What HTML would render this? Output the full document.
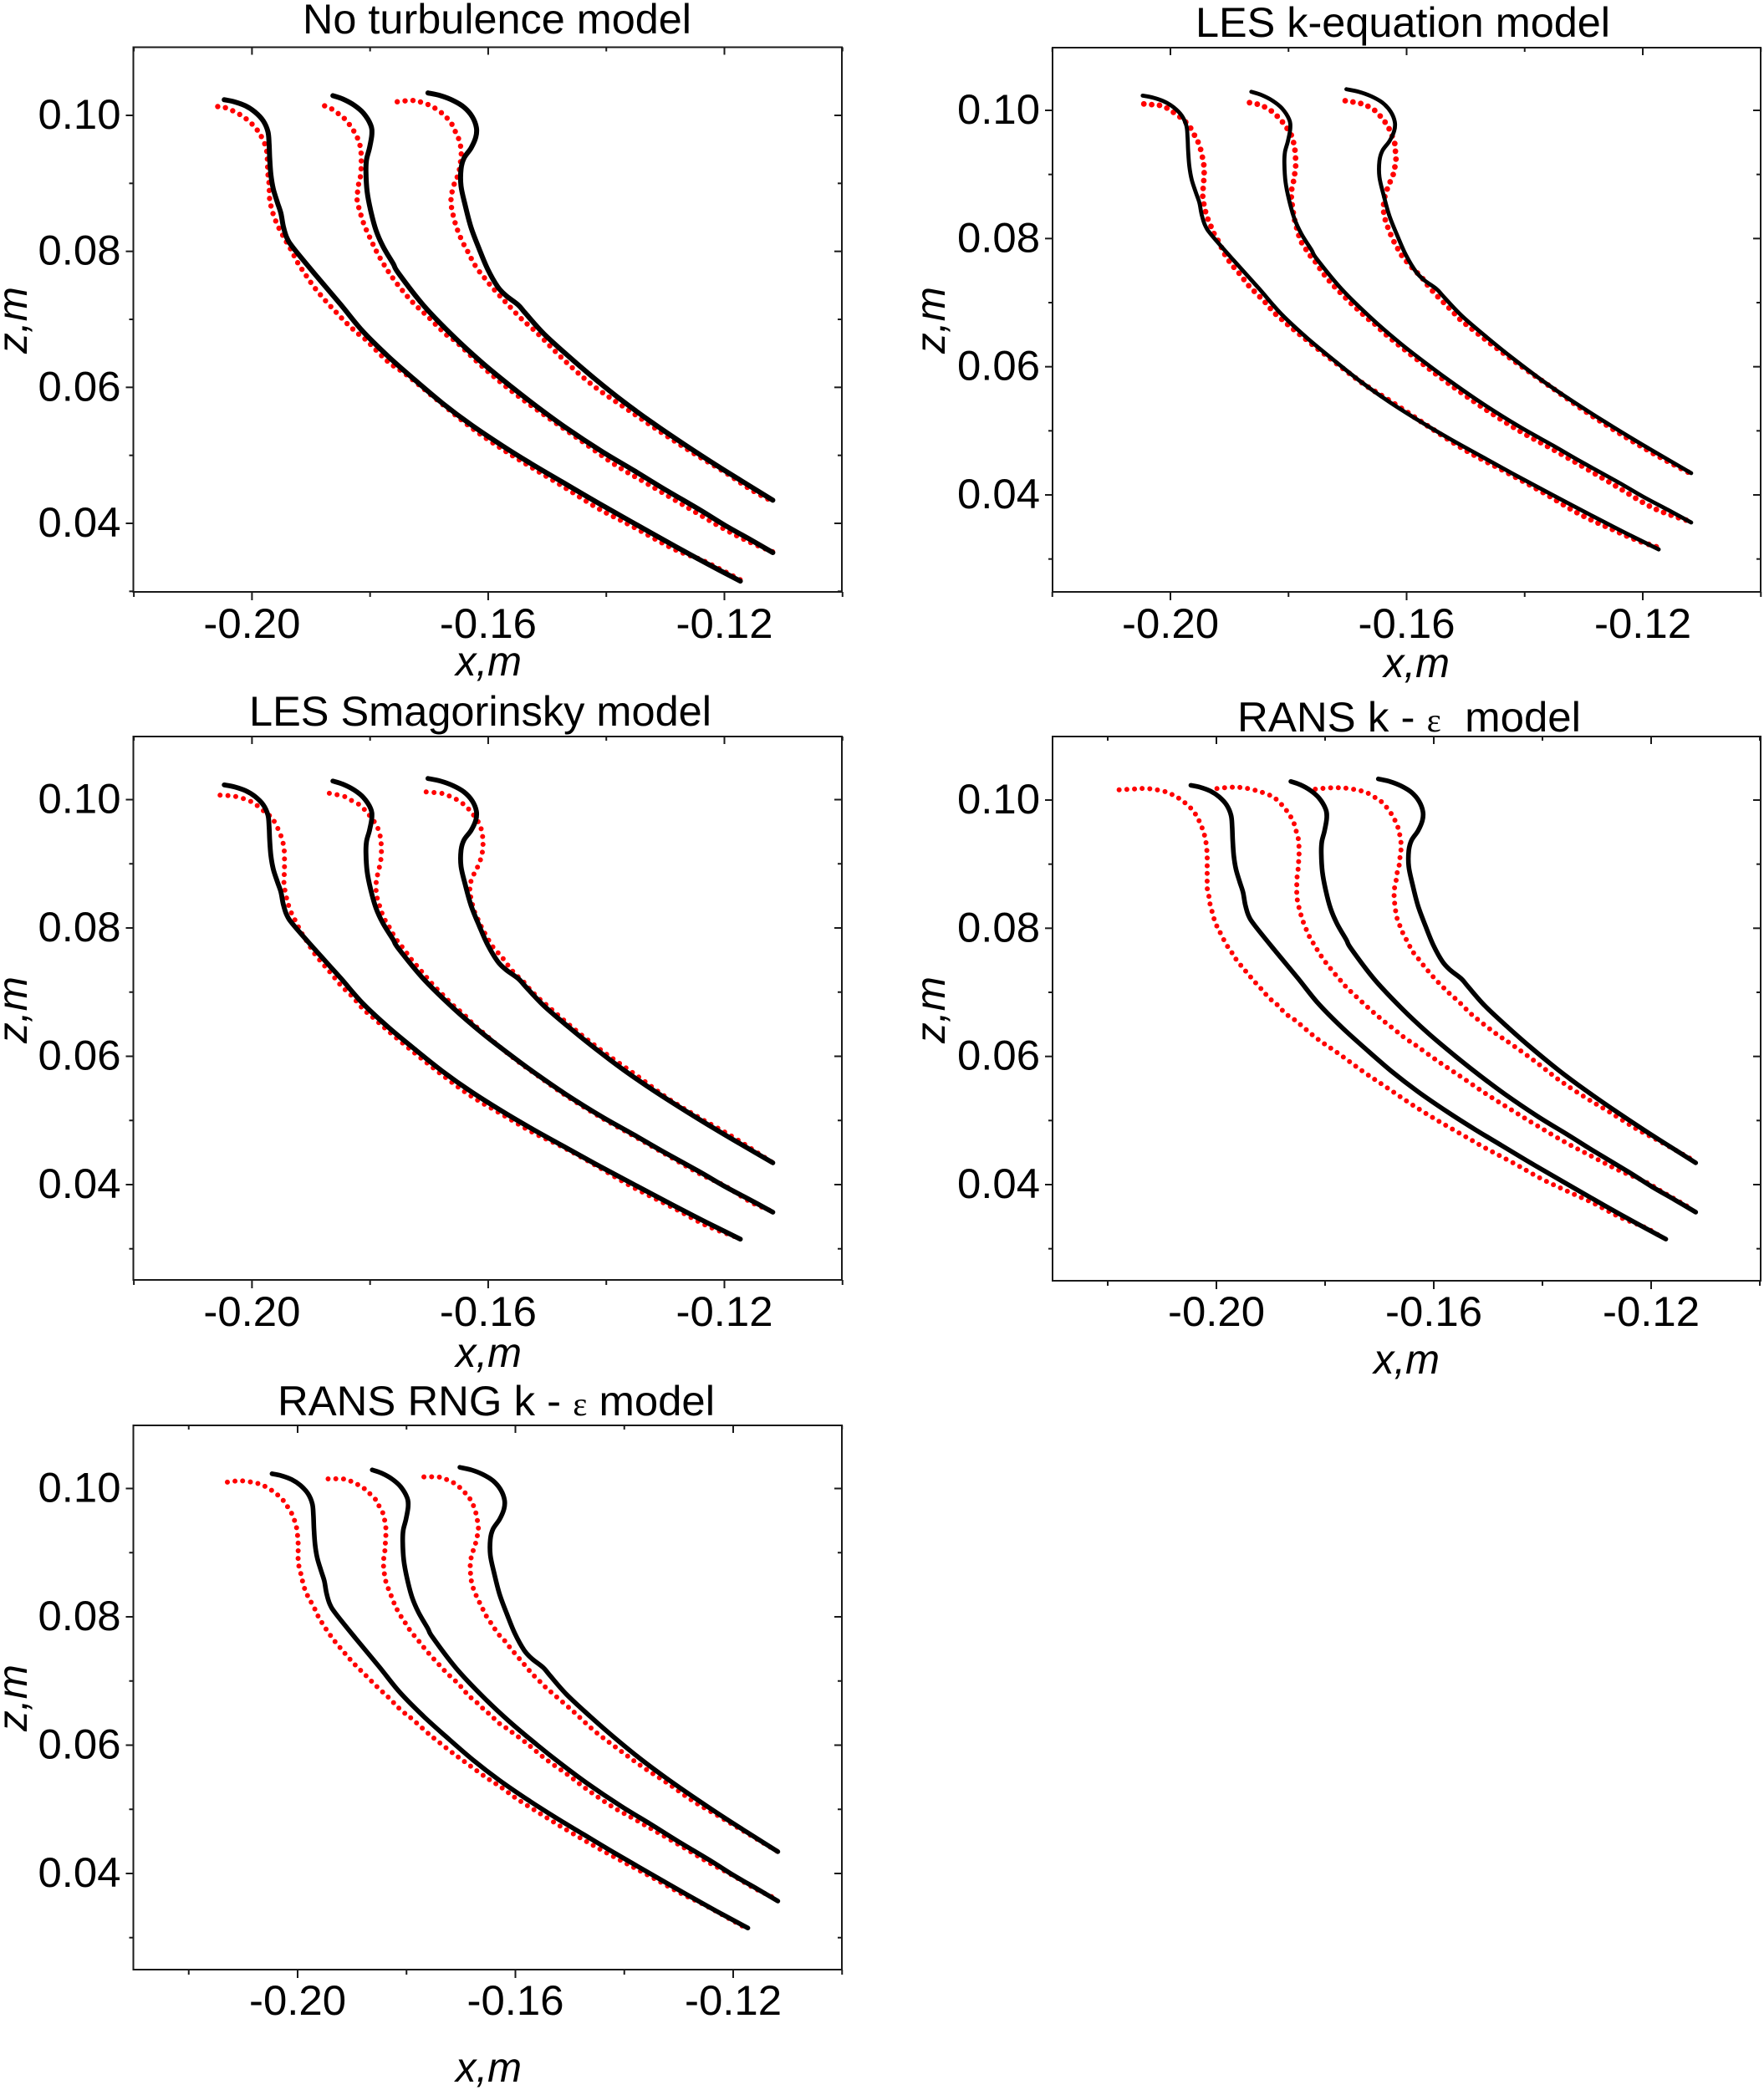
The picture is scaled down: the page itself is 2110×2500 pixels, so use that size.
<!DOCTYPE html>
<html lang="en">
<head>
<meta charset="utf-8">
<title>Turbulence model comparison</title>
<style>
html,body{margin:0;padding:0;background:#fff;}
svg{display:block;}
text{font-family:"Liberation Sans",sans-serif;fill:#000;font-size:50px;white-space:pre;}
.ital{font-style:italic;}
.eps{font-family:"Liberation Serif",serif;font-size:40px;}
</style>
</head>
<body>
<svg id="figure" xmlns="http://www.w3.org/2000/svg" width="2110" height="2500" viewBox="0 0 2110 2500">
<rect x="0" y="0" width="2110" height="2500" fill="#fff"/>
<g id="plots"></g>

<text x="362" y="40" textLength="465" lengthAdjust="spacingAndGlyphs">No turbulence model</text>
<text x="1430" y="44" textLength="496" lengthAdjust="spacingAndGlyphs">LES k-equation model</text>
<text x="298" y="868" textLength="553" lengthAdjust="spacingAndGlyphs">LES Smagorinsky model</text>
<text x="1480" y="875" textLength="411" lengthAdjust="spacingAndGlyphs">RANS k - <tspan class="eps">ε</tspan>  model</text>
<text x="332" y="1693" textLength="523" lengthAdjust="spacingAndGlyphs">RANS RNG k - <tspan class="eps">ε</tspan> model</text>

<text class="ital" x="545" y="808" textLength="79" lengthAdjust="spacingAndGlyphs">x,m</text>
<text class="ital" x="1655" y="810" textLength="79" lengthAdjust="spacingAndGlyphs">x,m</text>
<text class="ital" x="545" y="1635" textLength="79" lengthAdjust="spacingAndGlyphs">x,m</text>
<text class="ital" x="1643" y="1643" textLength="79" lengthAdjust="spacingAndGlyphs">x,m</text>
<text class="ital" x="545" y="2490" textLength="79" lengthAdjust="spacingAndGlyphs">x,m</text>

<text class="ital" transform="translate(32,423) rotate(-90)" textLength="80" lengthAdjust="spacingAndGlyphs">z,m</text>
<text class="ital" transform="translate(1130,423) rotate(-90)" textLength="80" lengthAdjust="spacingAndGlyphs">z,m</text>
<text class="ital" transform="translate(32,1248) rotate(-90)" textLength="80" lengthAdjust="spacingAndGlyphs">z,m</text>
<text class="ital" transform="translate(1130,1248) rotate(-90)" textLength="80" lengthAdjust="spacingAndGlyphs">z,m</text>
<text class="ital" transform="translate(32,2071) rotate(-90)" textLength="80" lengthAdjust="spacingAndGlyphs">z,m</text>
</svg>

<script>
// Tick values and labels
const xMajorTicks = [-0.20, -0.16, -0.12];
const xMajorLabels = ['-0.20', '-0.16', '-0.12'];
const xMinorTicks = [-0.22, -0.18, -0.14, -0.10];
const zMajorTicks = [0.10, 0.08, 0.06, 0.04];
const zMajorLabels = ['0.10', '0.08', '0.06', '0.04'];
const zMinorTicks = [0.09, 0.07, 0.05, 0.03];

// Simulation (black) profiles, shared by all panels
const blackC1X = [-.2047,-.2030,-.2011,-.1995,-.1981,-.1973,-.1971,-.1970,-.1968,-.1964,-.1957,-.1951,-.1947,-.1941,-.1930,-.1893,-.1850,-.1813,-.1770,-.1727,-.1678,-.1629,-.1574,-.1524,-.1475,-.1420,-.1359,-.1285,-.1230,-.1173];
const blackC1Z = [.1023,.1020,.1014,.1005,.0992,.0976,.0958,.0937,.0913,.0892,.0872,.0856,.0837,.0820,.0805,.0766,.0722,.0683,.0646,.0613,.0577,.0545,.0513,.0486,.0461,.0433,.0403,.0367,.0341,.0315];
const blackC2X = [-.1863,-.1846,-.1827,-.1811,-.1799,-.1797,-.1801,-.1806,-.1807,-.1805,-.1799,-.1790,-.1778,-.1761,-.1752,-.1709,-.1659,-.1610,-.1561,-.1518,-.1469,-.1408,-.1352,-.1303,-.1242,-.1199,-.1156,-.1118];
const blackC2Z = [.1029,.1024,.1015,.1003,.0986,.0972,.0952,.0935,.0917,.0888,.0860,.0831,.0807,.0782,.0768,.0720,.0675,.0636,.0601,.0572,.0541,.0506,.0477,.0451,.0420,.0397,.0376,.0357];
const blackC3X = [-.1702,-.1681,-.1660,-.1641,-.1627,-.1620,-.1621,-.1629,-.1641,-.1646,-.1646,-.1639,-.1629,-.1615,-.1601,-.1584,-.1570,-.1549,-.1537,-.1506,-.1463,-.1420,-.1371,-.1322,-.1266,-.1211,-.1174,-.1118];
const blackC3Z = [.1033,.1029,.1022,.1012,.0998,.0982,.0968,.0952,.0937,.0921,.0896,.0868,.0835,.0803,.0774,.0748,.0735,.0721,.0709,.0679,.0645,.0613,.0579,.0548,.0515,.0484,.0464,.0434];

// Panel 1: No turbulence model (red dotted)
const p1RedC1X = [-.2058,-.2044,-.2020,-.2002,-.1989,-.1982,-.1976,-.1974,-.1973,-.1971,-.1970,-.1967,-.1963,-.1957,-.1950,-.1943,-.1933,-.1923,-.1908,-.1896,-.1883,-.1870,-.1857,-.1845,-.1832,-.1819,-.1806,-.1770,-.1739,-.1690,-.1629,-.1574,-.1524,-.1469,-.1414,-.1359,-.1285,-.1236,-.1171];
const p1RedC1Z = [.1013,.1011,.1001,.0989,.0976,.0965,.0952,.0937,.0915,.0899,.0876,.0864,.0852,.0839,.0827,.0816,.0801,.0784,.0764,.0749,.0735,.0722,.0710,.0699,.0688,.0678,.0669,.0638,.0619,.0584,.0541,.0508,.0481,.0452,.0422,.0397,.0362,.0345,.0316];
const p1RedC2X = [-.1877,-.1866,-.1853,-.1842,-.1829,-.1820,-.1816,-.1815,-.1815,-.1816,-.1819,-.1821,-.1822,-.1819,-.1815,-.1810,-.1804,-.1797,-.1791,-.1783,-.1774,-.1765,-.1754,-.1742,-.1730,-.1716,-.1702,-.1686,-.1669,-.1653,-.1604,-.1555,-.1506,-.1445,-.1383,-.1328,-.1260,-.1199,-.1156,-.1118];
const p1RedC2Z = [.1014,.1010,.1002,.0994,.0979,.0964,.0951,.0939,.0927,.0912,.0901,.0889,.0876,.0864,.0852,.0839,.0827,.0814,.0803,.0790,.0777,.0765,.0752,.0739,.0727,.0715,.0704,.0690,.0676,.0666,.0626,.0591,.0560,.0523,.0485,.0457,.0422,.0391,.0372,.0358];
const p1RedC3X = [-.1754,-.1730,-.1716,-.1697,-.1678,-.1663,-.1655,-.1649,-.1646,-.1646,-.1650,-.1656,-.1661,-.1663,-.1662,-.1659,-.1655,-.1650,-.1643,-.1636,-.1629,-.1619,-.1609,-.1598,-.1587,-.1568,-.1544,-.1516,-.1469,-.1420,-.1365,-.1309,-.1254,-.1199,-.1156,-.1118];
const p1RedC3Z = [.1020,.1022,.1020,.1014,.1003,.0989,.0975,.0963,.0950,.0938,.0915,.0903,.0888,.0876,.0864,.0852,.0839,.0827,.0813,.0802,.0790,.0775,.0764,.0752,.0741,.0723,.0701,.0679,.0638,.0601,.0568,.0535,.0504,.0475,.0450,.0432];

// Panel 2: LES k-equation model
const p2RedC1X = [-.2045,-.2032,-.2019,-.2007,-.1995,-.1979,-.1967,-.1958,-.1952,-.1948,-.1945,-.1943,-.1943,-.1944,-.1945,-.1945,-.1942,-.1939,-.1933,-.1928,-.1920,-.1913,-.1907,-.1896,-.1882,-.1868,-.1854,-.1840,-.1825,-.1809,-.1795,-.1775,-.1731,-.1674,-.1617,-.1560,-.1497,-.1434,-.1371,-.1307,-.1251,-.1209,-.1170];
const p2RedC1Z = [.1010,.1009,.1008,.1004,.0997,.0986,.0974,.0959,.0948,.0936,.0923,.0911,.0898,.0885,.0873,.0861,.0849,.0836,.0823,.0811,.0798,.0785,.0774,.0759,.0744,.0727,.0714,.0701,.0685,.0672,.0661,.0646,.0614,.0574,.0540,.0505,.0468,.0437,.0405,.0370,.0346,.0329,.0317];
const p2RedC2X = [-.1866,-.1854,-.1842,-.1829,-.1815,-.1804,-.1795,-.1791,-.1789,-.1788,-.1788,-.1790,-.1792,-.1795,-.1795,-.1793,-.1791,-.1788,-.1780,-.1771,-.1763,-.1754,-.1743,-.1731,-.1719,-.1706,-.1693,-.1680,-.1667,-.1653,-.1632,-.1579,-.1529,-.1472,-.1409,-.1358,-.1301,-.1244,-.1181,-.1118];
const p2RedC2Z = [.1012,.1010,.1006,.0999,.0987,.0974,.0961,.0948,.0937,.0924,.0911,.0898,.0887,.0874,.0861,.0848,.0835,.0823,.0798,.0784,.0773,.0763,.0748,.0734,.0722,.0710,.0698,.0687,.0676,.0666,.0648,.0609,.0574,.0537,.0500,.0474,.0444,.0413,.0379,.0358];
const p2RedC3X = [-.1704,-.1679,-.1667,-.1654,-.1641,-.1630,-.1620,-.1619,-.1618,-.1620,-.1623,-.1630,-.1634,-.1638,-.1639,-.1638,-.1634,-.1629,-.1623,-.1616,-.1607,-.1589,-.1575,-.1566,-.1552,-.1535,-.1521,-.1507,-.1459,-.1409,-.1352,-.1295,-.1232,-.1175,-.1118];
const p2RedC3Z = [.1015,.1011,.1007,.1000,.0987,.0972,.0948,.0937,.0924,.0911,.0899,.0884,.0874,.0861,.0848,.0836,.0823,.0811,.0798,.0786,.0772,.0753,.0740,.0729,.0714,.0698,.0685,.0672,.0637,.0603,.0566,.0529,.0492,.0461,.0433];

// Panel 3: LES Smagorinsky model
const p3RedC1X = [-.2054,-.2028,-.2004,-.1990,-.1976,-.1965,-.1961,-.1954,-.1949,-.1946,-.1945,-.1945,-.1945,-.1946,-.1945,-.1942,-.1939,-.1934,-.1928,-.1917,-.1905,-.1894,-.1879,-.1865,-.1849,-.1830,-.1811,-.1792,-.1770,-.1727,-.1678,-.1629,-.1574,-.1524,-.1475,-.1420,-.1359,-.1285,-.1230,-.1180];
const p3RedC1Z = [.1007,.1005,.0998,.0990,.0979,.0971,.0963,.0951,.0938,.0926,.0913,.0900,.0888,.0875,.0863,.0849,.0838,.0825,.0814,.0794,.0776,.0760,.0743,.0728,.0710,.0693,.0673,.0658,.0640,.0607,.0571,.0538,.0508,.0481,.0459,.0431,.0398,.0363,.0336,.0318];
const p3RedC2X = [-.1869,-.1844,-.1832,-.1818,-.1807,-.1799,-.1791,-.1785,-.1782,-.1781,-.1781,-.1783,-.1786,-.1789,-.1790,-.1789,-.1785,-.1781,-.1775,-.1766,-.1757,-.1742,-.1731,-.1719,-.1707,-.1693,-.1676,-.1660,-.1641,-.1620,-.1561,-.1518,-.1469,-.1408,-.1352,-.1303,-.1242,-.1199,-.1156,-.1118];
const p3RedC2Z = [.1010,.1005,.0999,.0992,.0982,.0973,.0963,.0951,.0938,.0926,.0913,.0900,.0888,.0876,.0864,.0851,.0838,.0826,.0813,.0799,.0784,.0766,.0752,.0739,.0726,.0711,.0695,.0680,.0665,.0646,.0600,.0571,.0539,.0504,.0475,.0449,.0417,.0398,.0373,.0358];
const p3RedC3X = [-.1705,-.1680,-.1667,-.1655,-.1642,-.1630,-.1616,-.1611,-.1609,-.1609,-.1611,-.1616,-.1622,-.1628,-.1631,-.1630,-.1627,-.1623,-.1617,-.1611,-.1604,-.1594,-.1585,-.1577,-.1565,-.1554,-.1540,-.1528,-.1515,-.1500,-.1455,-.1405,-.1350,-.1295,-.1240,-.1185,-.1118];
const p3RedC3Z = [.1012,.1010,.1006,.1001,.0993,.0982,.0964,.0951,.0938,.0926,.0913,.0899,.0888,.0876,.0864,.0851,.0838,.0825,.0813,.0801,.0789,.0773,.0763,.0755,.0740,.0728,.0716,.0703,.0691,.0679,.0643,.0607,.0571,.0534,.0503,.0474,.0434];

// Panel 4: RANS k-epsilon model
const p4RedC1X = [-.2179,-.2155,-.2143,-.2130,-.2117,-.2094,-.2080,-.2066,-.2049,-.2037,-.2030,-.2024,-.2020,-.2018,-.2017,-.2017,-.2017,-.2017,-.2017,-.2014,-.2012,-.2008,-.2004,-.1998,-.1991,-.1982,-.1973,-.1965,-.1953,-.1941,-.1928,-.1915,-.1903,-.1891,-.1880,-.1867,-.1853,-.1815,-.1776,-.1731,-.1689,-.1644,-.1595,-.1546,-.1505,-.1452,-.1404,-.1355,-.1306,-.1257,-.1208,-.1181];
const p4RedC1Z = [.1016,.1017,.1018,.1018,.1017,.1013,.1008,.1001,.0989,.0976,.0964,.0951,.0938,.0925,.0914,.0901,.0889,.0876,.0863,.0851,.0839,.0826,.0814,.0801,.0790,.0775,.0764,.0753,.0740,.0728,.0715,.0703,.0691,.0683,.0673,.0663,.0655,.0628,.0605,.0577,.0553,.0527,.0501,.0477,.0457,.0433,.0410,.0390,.0371,.0349,.0332,.0318];
const p4RedC2X = [-.1999,-.1973,-.1949,-.1923,-.1898,-.1886,-.1874,-.1864,-.1857,-.1853,-.1849,-.1848,-.1848,-.1849,-.1850,-.1852,-.1852,-.1852,-.1850,-.1846,-.1842,-.1836,-.1830,-.1822,-.1812,-.1800,-.1786,-.1773,-.1762,-.1750,-.1736,-.1722,-.1710,-.1699,-.1686,-.1671,-.1661,-.1649,-.1636,-.1588,-.1546,-.1501,-.1456,-.1410,-.1358,-.1309,-.1261,-.1212,-.1174,-.1125];
const p4RedC2Z = [.1018,.1020,.1019,.1014,.1006,.0998,.0987,.0975,.0963,.0951,.0938,.0925,.0912,.0901,.0889,.0876,.0863,.0851,.0839,.0826,.0814,.0801,.0789,.0777,.0763,.0748,.0733,.0720,.0709,.0699,.0688,.0677,.0668,.0660,.0651,.0641,.0634,.0626,.0619,.0590,.0566,.0540,.0516,.0492,.0466,.0444,.0423,.0405,.0386,.0362];
const p4RedC3X = [-.1818,-.1792,-.1767,-.1742,-.1729,-.1717,-.1703,-.1692,-.1677,-.1668,-.1664,-.1661,-.1660,-.1662,-.1663,-.1667,-.1669,-.1672,-.1673,-.1672,-.1670,-.1667,-.1661,-.1655,-.1647,-.1640,-.1628,-.1616,-.1604,-.1591,-.1577,-.1567,-.1556,-.1543,-.1531,-.1491,-.1452,-.1410,-.1369,-.1323,-.1278,-.1229,-.1181,-.1118];
const p4RedC3Z = [.1017,.1019,.1019,.1016,.1013,.1009,.1001,.0994,.0977,.0962,.0951,.0938,.0926,.0913,.0901,.0888,.0876,.0864,.0851,.0839,.0826,.0814,.0801,.0789,.0777,.0765,.0752,.0739,.0727,.0715,.0703,.0695,.0687,.0676,.0666,.0639,.0616,.0590,.0563,.0537,.0514,.0488,.0466,.0436];

// Panel 5: RANS RNG k-epsilon model
const p5RedC1X = [-.2129,-.2104,-.2079,-.2067,-.2055,-.2041,-.2029,-.2022,-.2012,-.2006,-.2002,-.2000,-.1999,-.1999,-.1999,-.1997,-.1993,-.1990,-.1985,-.1978,-.1970,-.1963,-.1954,-.1943,-.1931,-.1918,-.1905,-.1893,-.1880,-.1867,-.1853,-.1839,-.1829,-.1818,-.1805,-.1790,-.1757,-.1720,-.1693,-.1656,-.1629,-.1595,-.1554,-.1520,-.1480,-.1443,-.1395,-.1345,-.1294,-.1253,-.1183];
const p5RedC1Z = [.1010,.1012,.1009,.1006,.1001,.0993,.0984,.0976,.0963,.0951,.0939,.0926,.0914,.0901,.0889,.0876,.0864,.0852,.0839,.0827,.0815,.0802,.0789,.0775,.0761,.0748,.0735,.0724,.0713,.0702,.0690,.0679,.0671,.0661,.0651,.0641,.0616,.0591,.0574,.0551,.0536,.0515,.0493,.0475,.0455,.0437,.0415,.0392,.0368,.0351,.0318];
const p5RedC2X = [-.1944,-.1919,-.1907,-.1894,-.1881,-.1870,-.1857,-.1852,-.1844,-.1840,-.1838,-.1838,-.1839,-.1840,-.1842,-.1842,-.1840,-.1837,-.1831,-.1825,-.1819,-.1809,-.1801,-.1792,-.1780,-.1768,-.1756,-.1743,-.1730,-.1718,-.1705,-.1694,-.1683,-.1669,-.1656,-.1644,-.1633,-.1619,-.1581,-.1544,-.1504,-.1470,-.1422,-.1382,-.1341,-.1294,-.1247,-.1199,-.1159,-.1122];
const p5RedC2Z = [.1015,.1015,.1013,.1008,.1002,.0994,.0983,.0975,.0963,.0950,.0939,.0926,.0913,.0901,.0889,.0876,.0864,.0852,.0839,.0826,.0814,.0799,.0789,.0777,.0765,.0752,.0740,.0728,.0716,.0706,.0696,.0685,.0675,.0665,.0654,.0646,.0636,.0628,.0604,.0578,.0554,.0532,.0504,.0485,.0465,.0442,.0418,.0396,.0376,.0361];
const p5RedC3X = [-.1768,-.1742,-.1730,-.1718,-.1704,-.1688,-.1679,-.1673,-.1670,-.1668,-.1670,-.1673,-.1678,-.1682,-.1683,-.1682,-.1680,-.1675,-.1668,-.1661,-.1654,-.1643,-.1632,-.1619,-.1608,-.1595,-.1582,-.1569,-.1556,-.1543,-.1528,-.1493,-.1456,-.1416,-.1368,-.1321,-.1274,-.1226,-.1179,-.1118];
const p5RedC3Z = [.1018,.1018,.1015,.1011,.1003,.0989,.0977,.0963,.0951,.0939,.0926,.0915,.0902,.0889,.0876,.0864,.0852,.0839,.0826,.0814,.0802,.0788,.0774,.0762,.0750,.0737,.0724,.0711,.0700,.0689,.0678,.0652,.0623,.0597,.0567,.0541,.0513,.0489,.0465,.0434];

const NS = 'http://www.w3.org/2000/svg';
const plots = document.getElementById('plots');

const blackSeries = [[blackC1X, blackC1Z], [blackC2X, blackC2Z], [blackC3X, blackC3Z]];

const panels = [
  {key: 'no-turbulence', left: 159.5, right: 1007, top: 56.5, bottom: 708, x20: 301.4, x12: 866.5, z10: 138, z04: 626, labelY: 763, blackW: 6, dotW: 6.4, dotGap: 9.4,
   red: [[p1RedC1X, p1RedC1Z], [p1RedC2X, p1RedC2Z], [p1RedC3X, p1RedC3Z]]},
  {key: 'les-k-equation', left: 1259, right: 2106, top: 57, bottom: 708, x20: 1400, x12: 1965, z10: 132, z04: 592, labelY: 763, blackW: 4.8, dotW: 6.8, dotGap: 9.4,
   red: [[p2RedC1X, p2RedC1Z], [p2RedC2X, p2RedC2Z], [p2RedC3X, p2RedC3Z]]},
  {key: 'les-smagorinsky', left: 159.5, right: 1007, top: 881, bottom: 1531, x20: 301.4, x12: 866.5, z10: 956.5, z04: 1417, labelY: 1586, blackW: 5.8, dotW: 6, dotGap: 9.4,
   red: [[p3RedC1X, p3RedC1Z], [p3RedC2X, p3RedC2Z], [p3RedC3X, p3RedC3Z]]},
  {key: 'rans-k-epsilon', left: 1259, right: 2106, top: 881, bottom: 1532, x20: 1455, x12: 1975, z10: 957, z04: 1417, labelY: 1586, blackW: 5.6, dotW: 6, dotGap: 9.2,
   red: [[p4RedC1X, p4RedC1Z], [p4RedC2X, p4RedC2Z], [p4RedC3X, p4RedC3Z]]},
  {key: 'rans-rng-k-epsilon', left: 159.5, right: 1007, top: 1705, bottom: 2356, x20: 356, x12: 877, z10: 1780.5, z04: 2241, labelY: 2410, blackW: 5.6, dotW: 6, dotGap: 9.2,
   red: [[p5RedC1X, p5RedC1Z], [p5RedC2X, p5RedC2Z], [p5RedC3X, p5RedC3Z]]}
];

function makeXScale(p) {
  return function (v) { return p.x20 + (v + 0.20) * (p.x12 - p.x20) / 0.08; };
}
function makeZScale(p) {
  return function (v) { return p.z10 + (0.10 - v) * (p.z04 - p.z10) / 0.06; };
}

function splinePath(xs, zs, sx, sz) {
  const pts = [];
  const n = Math.min(xs.length, zs.length);
  for (let i = 0; i < n; i++) pts.push([sx(xs[i]), sz(zs[i])]);
  let d = 'M' + pts[0][0].toFixed(2) + ' ' + pts[0][1].toFixed(2);
  for (let i = 0; i < n - 1; i++) {
    const p0 = pts[Math.max(i - 1, 0)], p1 = pts[i], p2 = pts[i + 1], p3 = pts[Math.min(i + 2, n - 1)];
    const c1x = p1[0] + (p2[0] - p0[0]) / 6, c1y = p1[1] + (p2[1] - p0[1]) / 6;
    const c2x = p2[0] - (p3[0] - p1[0]) / 6, c2y = p2[1] - (p3[1] - p1[1]) / 6;
    d += 'C' + c1x.toFixed(2) + ' ' + c1y.toFixed(2) + ' ' + c2x.toFixed(2) + ' ' + c2y.toFixed(2) + ' ' + p2[0].toFixed(2) + ' ' + p2[1].toFixed(2);
  }
  return d;
}

function tickLine(group, x1, y1, x2, y2) {
  const l = document.createElementNS(NS, 'line');
  
  
  l.setAttribute('x1', x1);
  l.setAttribute('y1', y1);
  l.setAttribute('x2', x2);
  l.setAttribute('y2', y2);
  l.setAttribute('stroke', '#1a1a1a');
  l.setAttribute('stroke-width', '2');
  group.appendChild(l);
}

panels.forEach(function (p) {
  const sx = makeXScale(p), sz = makeZScale(p);
  const g = document.createElementNS(NS, 'g');
  
  
  plots.appendChild(g);

  const frame = document.createElementNS(NS, 'rect');
  
  
  frame.setAttribute('x', p.left);
  frame.setAttribute('y', p.top);
  frame.setAttribute('width', p.right - p.left);
  frame.setAttribute('height', p.bottom - p.top);
  frame.setAttribute('fill', 'none');
  frame.setAttribute('stroke', '#1a1a1a');
  frame.setAttribute('stroke-width', '2');
  g.appendChild(frame);

  xMajorTicks.forEach(function (v, i) {
    const x = sx(v);
    tickLine(g, x, p.bottom, x, p.bottom + 10);
    tickLine(g, x, p.top, x, p.top + 9);
    const t = document.createElementNS(NS, 'text');
    
    
    t.setAttribute('x', x - 58);
    t.setAttribute('y', p.labelY);
    t.setAttribute('textLength', '116');
    t.setAttribute('lengthAdjust', 'spacingAndGlyphs');
    t.textContent = xMajorLabels[i];
    g.appendChild(t);
  });
  xMinorTicks.forEach(function (v) {
    const x = sx(v);
    if (x < p.left - 1 || x > p.right + 1) return;
    tickLine(g, x, p.bottom, x, p.bottom + 6);
    tickLine(g, x, p.top, x, p.top + 5);
  });
  zMajorTicks.forEach(function (v, i) {
    const y = sz(v);
    tickLine(g, p.left - 9, y, p.left, y);
    tickLine(g, p.right - 9, y, p.right, y);
    const t = document.createElementNS(NS, 'text');
    
    
    t.setAttribute('x', p.left - 114);
    t.setAttribute('y', y + 16);
    t.setAttribute('textLength', '99');
    t.setAttribute('lengthAdjust', 'spacingAndGlyphs');
    t.textContent = zMajorLabels[i];
    g.appendChild(t);
  });
  zMinorTicks.forEach(function (v) {
    const y = sz(v);
    if (y < p.top - 1 || y > p.bottom + 1) return;
    tickLine(g, p.left - 5, y, p.left, y);
    tickLine(g, p.right - 5, y, p.right, y);
  });

  p.red.forEach(function (s, i) {
    const path = document.createElementNS(NS, 'path');
    
    
    path.setAttribute('d', splinePath(s[0], s[1], sx, sz));
    path.setAttribute('fill', 'none');
    path.setAttribute('stroke', '#ff0000');
    path.setAttribute('stroke-width', p.dotW);
    path.setAttribute('stroke-linecap', 'round');
    path.setAttribute('stroke-dasharray', '0 ' + p.dotGap);
    g.appendChild(path);
  });
  blackSeries.forEach(function (s, i) {
    const path = document.createElementNS(NS, 'path');
    
    
    path.setAttribute('d', splinePath(s[0], s[1], sx, sz));
    path.setAttribute('fill', 'none');
    path.setAttribute('stroke', '#000000');
    path.setAttribute('stroke-width', p.blackW);
    path.setAttribute('stroke-linecap', 'round');
    path.setAttribute('stroke-linejoin', 'round');
    g.appendChild(path);
  });
});
</script>
</body>
</html>
